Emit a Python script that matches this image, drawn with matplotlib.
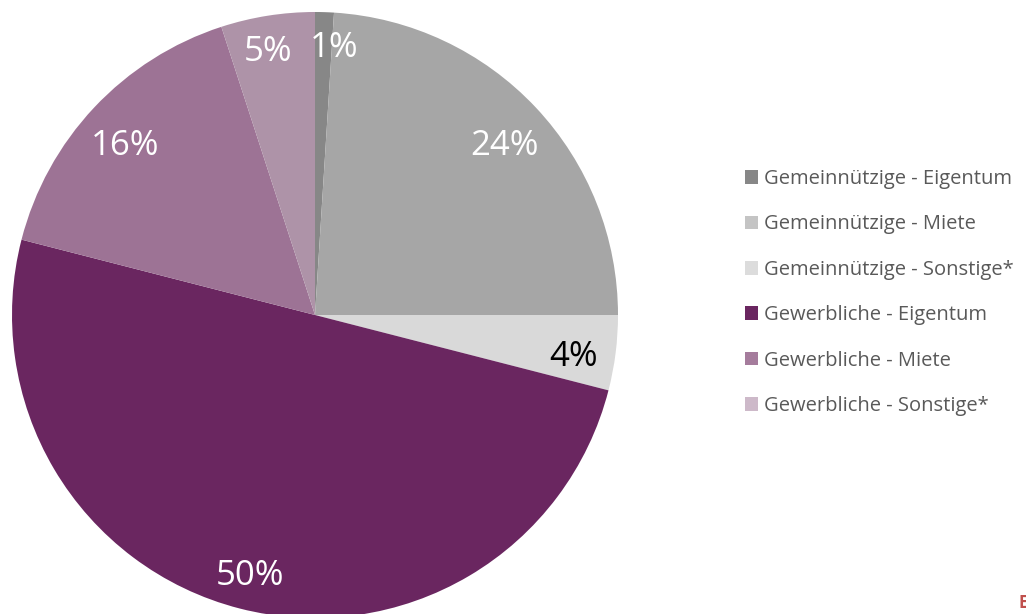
import matplotlib
matplotlib.use("Agg")
import matplotlib.pyplot as plt
from matplotlib.patches import Patch

labels = ["Gemeinnützige - Eigentum", "Gemeinnützige - Miete", "Gemeinnützige - Sonstige*",
          "Gewerbliche - Eigentum", "Gewerbliche - Miete", "Gewerbliche - Sonstige*"]
shares = [1, 24, 4, 50, 16, 5]
colors = ["#878787", "#a6a6a6", "#d9d9d9", "#6a2660", "#9d7395", "#ae93a8"]
legend_colors = ["#878787", "#c4c4c4", "#dcdcdc", "#6a2660", "#a57c9c", "#cdb9c9"]
text_colors = ["white", "white", "black", "white", "white", "white"]

plt.rcParams['font.family'] = ['Open Sans', 'DejaVu Sans']

W, H = 1026, 614
fig = plt.figure(figsize=(W / 100, H / 100), dpi=100)
ax = fig.add_axes([12 / W, -4 / H, 606 / W, 606 / H])

wedges, texts, autotexts = ax.pie(shares, colors=colors, startangle=90, counterclock=False,
                                  autopct=lambda p: f"{p:.0f}%", pctdistance=0.86,
                                  wedgeprops=dict(linewidth=0))
for i, (t, c) in enumerate(zip(autotexts, text_colors)):
    t.set_color(c)
    t.set_fontsize(25)
    x, y = t.get_position()
    if i == 0:
        t.set_position((x + 0.035, y + 0.02))   # keep the two small top labels apart
    elif i == 5:
        t.set_position((x - 0.02, y + 0.02))
    else:
        t.set_position((x, y - 0.03))

ax.set_xlim(-1, 1)
ax.set_ylim(-1, 1)
ax.set_aspect("equal")

handles = [Patch(facecolor=c, edgecolor="none") for c in legend_colors]
leg = fig.legend(handles, labels, loc="upper left", bbox_to_anchor=(727 / W, 1 - 151 / H),
                 frameon=False, fontsize=14.5, handlelength=0.65, handleheight=0.65,
                 handletextpad=0.3, labelspacing=1.26, labelcolor="#595959")

fig.text(1019 / W, 2 / H, "E", color="#c0504d", fontsize=12, fontweight="bold", va="bottom")

fig.savefig("out.png", dpi=100)
